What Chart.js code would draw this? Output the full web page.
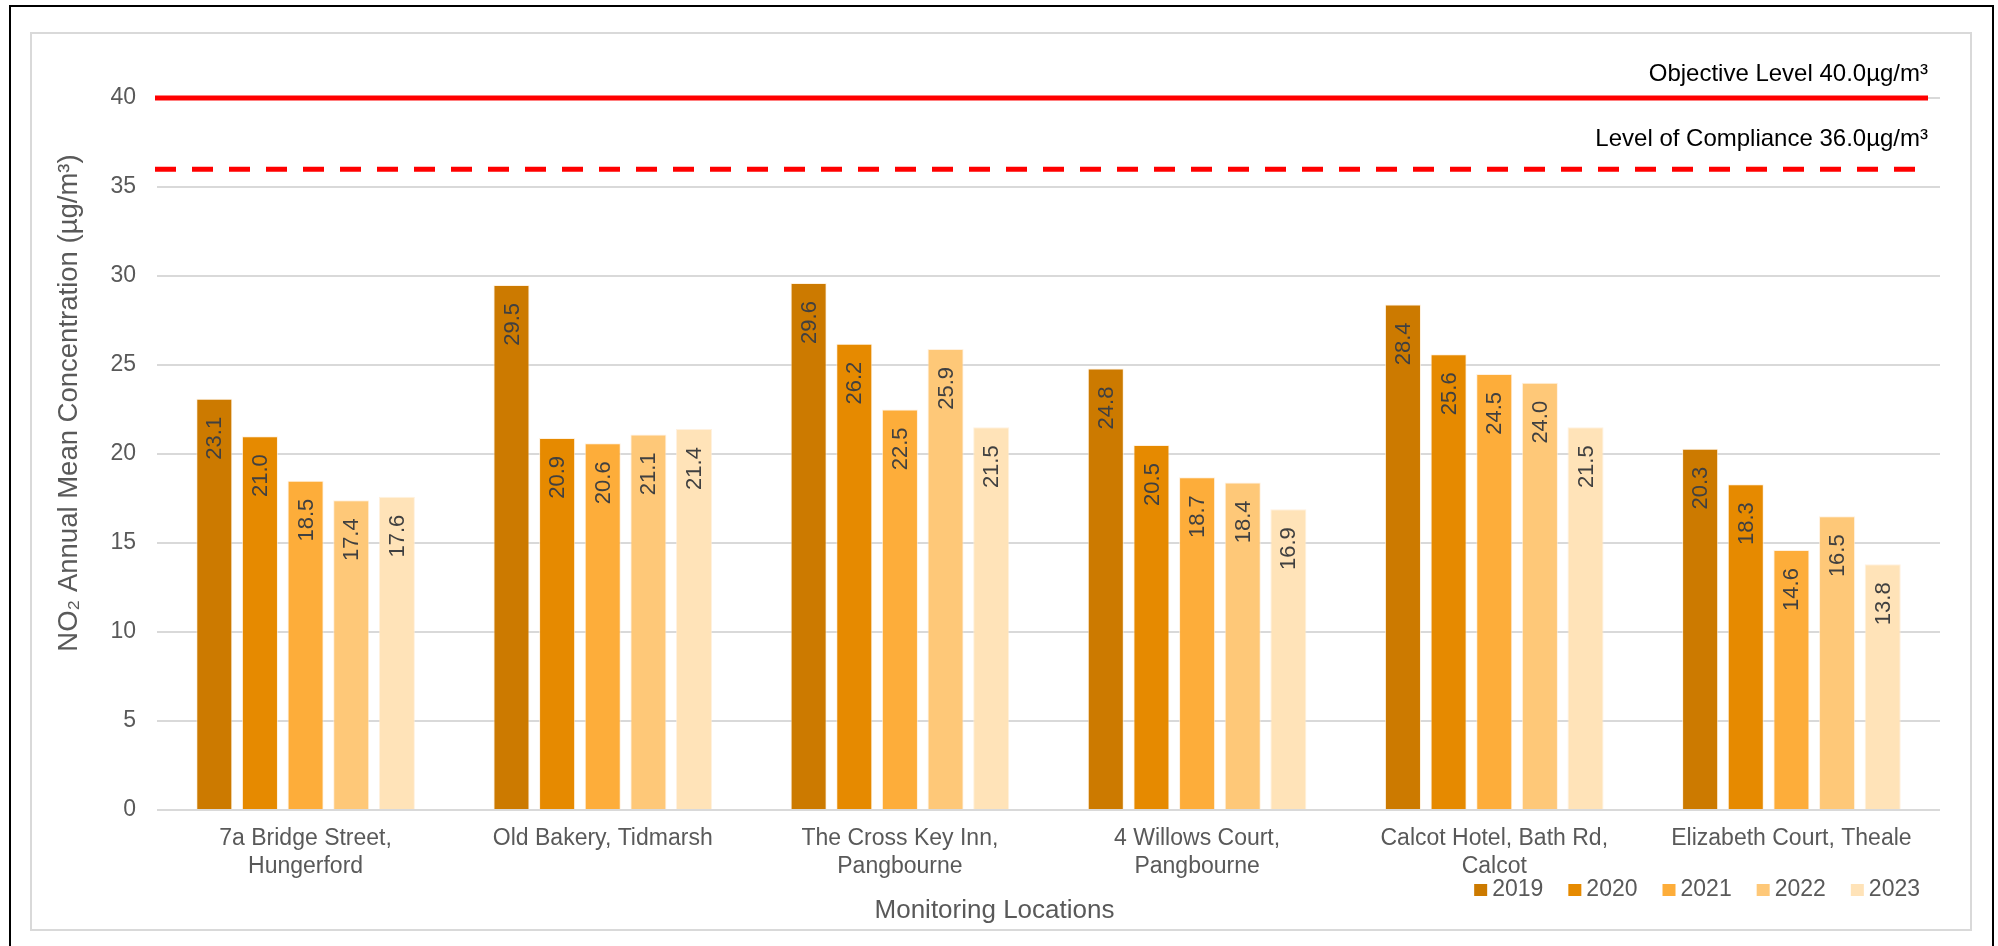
<!DOCTYPE html>
<html>
<head>
<meta charset="utf-8">
<script src="https://cdn.jsdelivr.net/npm/chart.js@4.4.1/dist/chart.umd.min.js"></script>
<style>
    html, body { margin: 0; padding: 0; background: #fff; overflow: hidden; }
    .frame { position: absolute; left: 9px; top: 5px; width: 1985px; height: 1000px; border: 2px solid #000; box-sizing: border-box; }
    .panel { position: absolute; left: 30px; top: 32px; width: 1942px; height: 899px; border: 2px solid #d9d9d9; box-sizing: border-box; }
    #no2Chart { position: absolute; left: 0; top: 0; }
</style>
</head>
<body>
<div class="frame"></div>
<div class="panel"></div>
<canvas id="no2Chart" width="1998" height="946"></canvas>
<script>
const locations = [
    ['7a Bridge Street,', 'Hungerford'],
    'Old Bakery, Tidmarsh',
    ['The Cross Key Inn,', 'Pangbourne'],
    ['4 Willows Court,', 'Pangbourne'],
    ['Calcot Hotel, Bath Rd,', 'Calcot'],
    'Elizabeth Court, Theale'
];
const years = ['2019', '2020', '2021', '2022', '2023'];
const conc2019 = [23.1, 29.5, 29.6, 24.8, 28.4, 20.3];
const conc2020 = [21.0, 20.9, 26.2, 20.5, 25.6, 18.3];
const conc2021 = [18.5, 20.6, 22.5, 18.7, 24.5, 14.6];
const conc2022 = [17.4, 21.1, 25.9, 18.4, 24.0, 16.5];
const conc2023 = [17.6, 21.4, 21.5, 16.9, 21.5, 13.8];
const yearColors = ['#cc7a00', '#e68a00', '#fdad3a', '#fec878', '#ffe3b8'];

const yTicks = [0, 5, 10, 15, 20, 25, 30, 35, 40];
const refValues = [40, 36];
const refLabels = ['Objective Level 40.0µg/m³', 'Level of Compliance 36.0µg/m³'];
const refDashes = [[], [21, 16]];
const yTitle = 'NO₂ Annual Mean Concentration (µg/m³)';

const FONT = "'Liberation Sans', Arial, sans-serif";
const GREY = '#595959';

const series = [conc2019, conc2020, conc2021, conc2022, conc2023];

// red objective / compliance lines with their captions above
const refLinesPlugin = {
    id: 'refLines',
    beforeDatasetsDraw(chart) {
        const { ctx, chartArea, scales } = chart;
        const x0 = chartArea.left - 2;
        const x1 = chartArea.right - 12;
        const offsets = [24, 30];
        refValues.forEach((v, i) => {
            const y = scales.y.getPixelForValue(v);
            ctx.save();
            ctx.strokeStyle = '#ff0000';
            ctx.lineWidth = 5;
            ctx.setLineDash(refDashes[i]);
            ctx.beginPath();
            ctx.moveTo(x0, y);
            ctx.lineTo(x1, y);
            ctx.stroke();
            ctx.setLineDash([]);
            ctx.fillStyle = '#000';
            ctx.font = '24px ' + FONT;
            ctx.textAlign = 'right';
            ctx.textBaseline = 'middle';
            ctx.fillText(refLabels[i], x1, y - offsets[i]);
            ctx.restore();
        });
    }
};

// rotated value labels just inside the top of each bar
const barValuesPlugin = {
    id: 'barValues',
    afterDatasetsDraw(chart) {
        const { ctx } = chart;
        chart.data.datasets.forEach((ds, di) => {
            const meta = chart.getDatasetMeta(di);
            meta.data.forEach((bar, i) => {
                ctx.save();
                ctx.translate(bar.x, bar.y + 18);
                ctx.rotate(-Math.PI / 2);
                ctx.fillStyle = '#404040';
                ctx.font = '22px ' + FONT;
                ctx.textAlign = 'right';
                ctx.textBaseline = 'middle';
                ctx.fillText(ds.data[i].toFixed(1), 0, 1);
                ctx.restore();
            });
        });
    }
};

// vertical axis title, sitting a little above the middle of the plot
const yTitlePlugin = {
    id: 'yTitle',
    afterDraw(chart) {
        const { ctx, chartArea } = chart;
        ctx.save();
        ctx.translate(69, (chartArea.top + chartArea.bottom) / 2 - 51);
        ctx.rotate(-Math.PI / 2);
        ctx.fillStyle = GREY;
        ctx.font = '27.5px ' + FONT;
        ctx.textAlign = 'center';
        ctx.textBaseline = 'middle';
        ctx.fillText(yTitle, 0, 0);
        ctx.restore();
    }
};

// year key tucked under the right-hand category labels
const yearKeyPlugin = {
    id: 'yearKey',
    afterDraw(chart) {
        const { ctx, chartArea } = chart;
        const box = 13, gap = 5, spacing = 25;
        const cy = chartArea.bottom + 80;
        ctx.save();
        ctx.font = '23px ' + FONT;
        ctx.textBaseline = 'middle';
        const items = chart.data.datasets.map(ds => ({
            text: ds.label,
            color: ds.backgroundColor,
            w: box + gap + ctx.measureText(ds.label).width
        }));
        const total = items.reduce((s, it) => s + it.w, 0) + spacing * (items.length - 1);
        let x = chartArea.right - 20 - total;
        items.forEach(it => {
            ctx.fillStyle = it.color;
            ctx.fillRect(x, cy - 6, box, 12);
            ctx.fillStyle = GREY;
            ctx.fillText(it.text, x + box + gap, cy);
            x += it.w + spacing;
        });
        ctx.restore();
    }
};

new Chart(document.getElementById('no2Chart'), {
    type: 'bar',
    data: {
        labels: locations,
        datasets: years.map((yr, i) => ({
            label: yr,
            data: series[i],
            backgroundColor: yearColors[i],
            borderColor: 'rgba(255, 235, 210, 0.7)',
            borderWidth: 1,
            categoryPercentage: 0.768,
            barPercentage: 0.79
        }))
    },
    options: {
        responsive: false,
        animation: false,
        layout: { padding: { top: 98, left: 49, right: 58, bottom: 19.4 } },
        scales: {
            x: {
                grid: { display: false, drawTicks: false },
                border: { display: false },
                ticks: {
                    color: GREY,
                    padding: 15,
                    maxRotation: 0,
                    autoSkip: false,
                    font: { family: FONT, size: 23, lineHeight: 1.2 }
                }
            },
            y: {
                min: 0,
                max: 40,
                afterBuildTicks: (scale) => { scale.ticks = yTicks.map(v => ({ value: v })); },
                grid: { color: '#d9d9d9', lineWidth: 2, drawTicks: false },
                border: { display: false },
                ticks: {
                    color: GREY,
                    padding: 21,
                    font: { family: FONT, size: 23 }
                },
                afterFit: (scale) => { scale.width = 108; }
            }
        },
        plugins: {
            legend: { display: false },
            title: {
                display: true,
                position: 'bottom',
                text: 'Monitoring Locations',
                color: GREY,
                padding: { top: 0.2, bottom: 0 },
                font: { family: FONT, size: 26, weight: 'normal', lineHeight: 1.2 }
            },
            tooltip: { enabled: false }
        }
    },
    plugins: [refLinesPlugin, barValuesPlugin, yTitlePlugin, yearKeyPlugin]
});
</script>
</body>
</html>
